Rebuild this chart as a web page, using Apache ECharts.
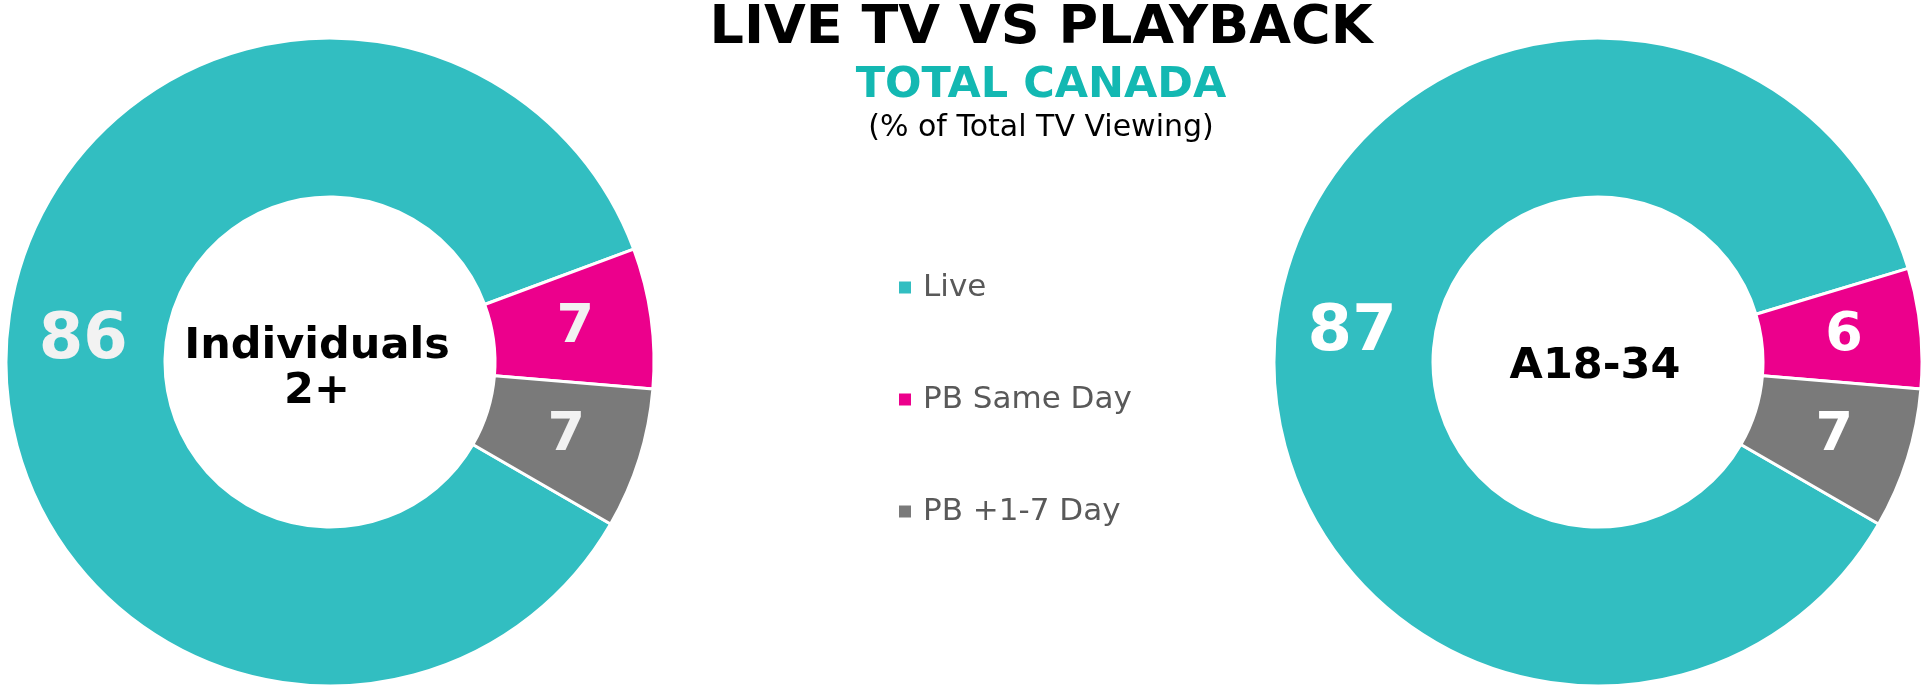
<!DOCTYPE html>
<html>
<head>
<meta charset="utf-8">
<title>Live TV vs Playback</title>
<script src="https://cdn.jsdelivr.net/npm/echarts@6/dist/echarts.min.js"></script>
<style>
  html, body { margin: 0; padding: 0; background: #fff; }
  #chart { width: 1926px; height: 688px; }
</style>
</head>
<body>
<div id="chart"></div>
<script>
const categories = ['Live', 'PB Same Day', 'PB +1-7 Day'];
const individualsValues = [86, 7, 7];
const adultsValues = [87, 6, 7];
const groupLabels = ['Individuals\n2+', 'A18-34'];

const sliceColors = ['#32bec1', '#ec008c', '#7a7a7a'];
const fontFamily = 'DejaVu Sans';

function makeDonut(values, center, labelColor) {
  return {
    type: 'pie',
    center: center,
    radius: [165, 324],
    startAngle: -30,
    clockwise: true,
    avoidLabelOverlap: false,
    silent: true,
    itemStyle: { borderColor: '#fff', borderWidth: 3 },
    label: {
      show: true,
      position: 'inside',
      formatter: '{c}',
      color: labelColor,
      fontFamily: fontFamily,
      fontWeight: 'bold',
      fontSize: 54
    },
    labelLine: { show: false },
    data: categories.map((name, i) => {
      const item = { name: name, value: values[i] };
      // the big "Live" number is set larger in the original
      if (i === 0) item.label = { fontSize: 64 };
      return item;
    })
  };
}

function headText(text, top, size, weight, color) {
  return {
    text: text,
    left: 1041,
    top: top,
    textAlign: 'center',
    padding: 0,
    textStyle: { fontFamily: fontFamily, fontWeight: weight, fontSize: size, lineHeight: size, color: color }
  };
}

function holeText(text, x, top) {
  return {
    text: text,
    left: x,
    top: top,
    textAlign: 'center',
    padding: 0,
    textStyle: { fontFamily: fontFamily, fontWeight: 'bold', fontSize: 43, lineHeight: 45, color: '#000' }
  };
}

const chartDom = document.getElementById('chart');
const myChart = echarts.init(chartDom);

const options = {
  animation: false,
  color: sliceColors,
  title: [
    headText('LIVE TV VS PLAYBACK', 2, 54, 'bold', '#000'),
    headText('TOTAL CANADA', 64, 43, 'bold', '#13b8b2'),
    headText('(% of Total TV Viewing)', 113, 30, 'normal', '#000'),
    holeText(groupLabels[0], 317, 324),
    holeText(groupLabels[1], 1595, 344)
  ],
  legend: {
    data: categories,
    orient: 'vertical',
    left: 897,
    top: 272,
    padding: 0,
    icon: 'rect',
    itemWidth: 14,
    itemHeight: 14,
    itemGap: 81,
    selectedMode: false,
    textStyle: {
      fontFamily: fontFamily,
      fontSize: 31,
      lineHeight: 31,
      color: '#595959',
      padding: [0, 0, 0, 6]
    }
  },
  series: [
    makeDonut(individualsValues, [330, 362], '#f2f2f2'),
    makeDonut(adultsValues, [1598, 362], '#ffffff')
  ]
};

options && myChart && myChart.setOption(options, true);
</script>
</body>
</html>
